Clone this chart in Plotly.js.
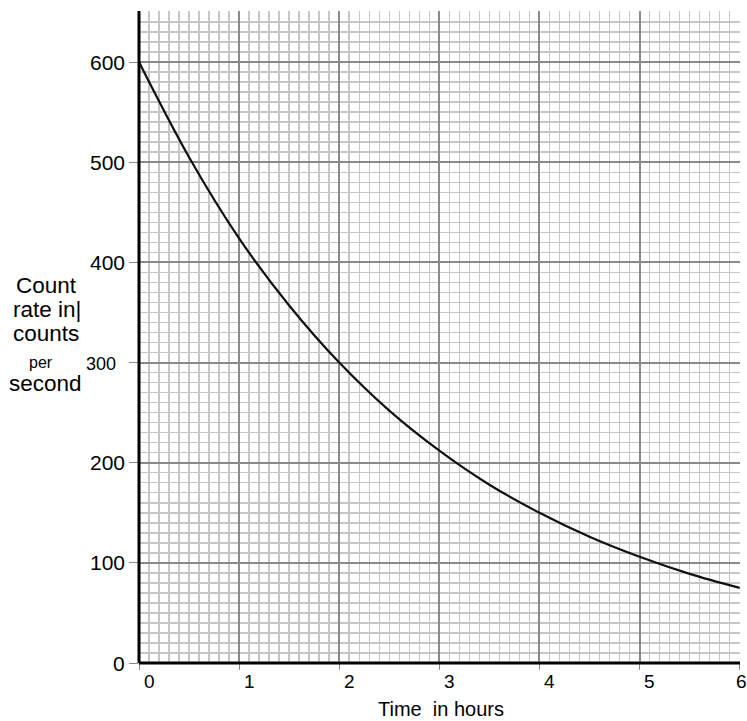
<!DOCTYPE html>
<html>
<head>
<meta charset="utf-8">
<script src="https://cdn.plot.ly/plotly-3.0.1.min.js"></script>
<style>html,body{margin:0;padding:0;background:#fff;}#chart{width:747px;height:721px;}</style>
</head>
<body>
<div id="chart"></div>
<script>
// Data
const timeHours = [0, 0.5, 1, 1.5, 2, 2.5, 3, 3.5, 4, 4.5, 5, 5.5, 6];
const countRate = [600, 505, 424, 357, 300, 252, 212, 178, 150, 126, 106, 89, 75];
const xTickVals = [0, 1, 2, 3, 4, 5, 6];
const xTickText = ['0', '1', '2', '3', '4', '5', '6'];
const yTickVals = [0, 100, 200, 300, 400, 500, 600];
const yTickText = ['0', '100', '200', '300', '400', '500', '600'];
const yTitleLines = ['Count', 'rate in|', 'counts', 'per', 'second'];
const xTitle = 'Time\u00a0 in hours';

const FONT = 'Liberation Sans, Arial, sans-serif';

const trace = {
  x: timeHours, y: countRate, type: 'scatter', mode: 'lines',
  line: {color: '#111', width: 2.2, shape: 'spline', smoothing: 1},
  hoverinfo: 'skip', showlegend: false
};

const annotations = [];
// y tick labels (the 300 label is smaller in the original)
yTickVals.forEach((v, i) => {
  const small = yTickText[i] === '300';
  annotations.push({
    text: yTickText[i], xref: 'paper', yref: 'y', x: 0, y: v, showarrow: false,
    xanchor: 'right', yanchor: 'middle', xshift: small ? -21 : -12, yshift: small ? -1 : 0,
    font: {family: FONT, size: small ? 18 : 21, color: '#000'}
  });
});
// x tick labels
xTickVals.forEach((v, i) => {
  const last = i === xTickVals.length - 1;
  annotations.push({
    text: xTickText[i], xref: 'x', yref: 'paper', x: v, y: 0, showarrow: false,
    xanchor: 'center', yanchor: 'middle', xshift: last ? 2 : 10, yshift: -18,
    font: {family: FONT, size: 19, color: '#000'}
  });
});
// y title lines
const yTitleY = [285, 309, 333, 362, 383];
const yTitleX = [47, 47, 46, 41, 46];
const yTitleSize = [22.5, 22.5, 22.5, 16, 22.5];
yTitleLines.forEach((t, i) => annotations.push({
  text: t, xref: 'paper', yref: 'paper', showarrow: false,
  x: (yTitleX[i] - 139) / 600, y: 1 - (yTitleY[i] - 11) / 652,
  xanchor: 'center', yanchor: 'middle',
  font: {family: FONT, size: yTitleSize[i], color: '#000'}
}));
annotations.push({
  text: xTitle, xref: 'paper', yref: 'paper', showarrow: false,
  x: (440 - 139) / 600, y: 1 - (709 - 11) / 652, xanchor: 'center', yanchor: 'middle',
  font: {family: FONT, size: 20, color: '#000'}
});

const layout = {
  width: 747, height: 721,
  margin: {l: 139, r: 7, t: 11, b: 58, pad: 0},
  paper_bgcolor: '#fff', plot_bgcolor: '#fff',
  showlegend: false,
  font: {family: FONT, color: '#000'},
  xaxis: {
    range: [0, 6.003], tickvals: xTickVals, showticklabels: false,
    ticks: 'outside', ticklen: 6, tickcolor: '#888', tickwidth: 1,
    showgrid: true, gridcolor: '#8a8a8a', gridwidth: 2,
    minor: {dtick: 0.1, tick0: 0, showgrid: true, gridcolor: '#c6c6c6', gridwidth: 1.5},
    zeroline: false, showline: false, fixedrange: true
  },
  yaxis: {
    range: [0, 651], tickvals: yTickVals, showticklabels: false,
    ticks: 'outside', ticklen: 9, tickcolor: '#888', tickwidth: 1,
    showgrid: true, gridcolor: '#8a8a8a', gridwidth: 2,
    minor: {dtick: 10, tick0: 0, showgrid: true, gridcolor: '#c6c6c6', gridwidth: 1.5},
    zeroline: false, showline: false, fixedrange: true
  },
  shapes: [
    {type: 'line', xref: 'paper', yref: 'paper', x0: 0, x1: 0, y0: 0, y1: 1, line: {color: '#000', width: 3}},
    {type: 'line', xref: 'paper', yref: 'paper', x0: 0, x1: 1, y0: 0, y1: 0, line: {color: '#000', width: 3}}
  ],
  annotations: annotations
};

Plotly.newPlot('chart', [trace], layout, {displayModeBar: false, staticPlot: true});
</script>
</body>
</html>
